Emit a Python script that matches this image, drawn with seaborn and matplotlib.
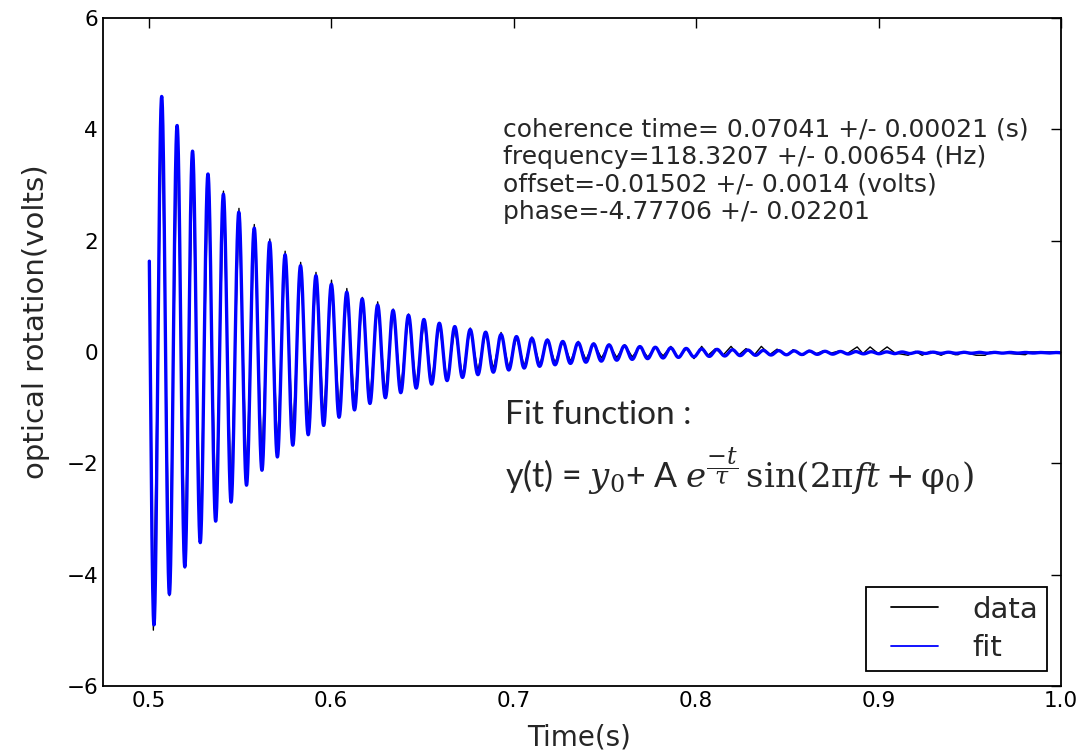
import numpy as np
import matplotlib
matplotlib.use("Agg")
import matplotlib.pyplot as plt
import seaborn as sns

# fit results printed on the chart
tau = 0.07041       # coherence time (s)
freq = 118.3207     # Hz
offset = -0.01502   # volts
phase = -4.77706
amp = 5.1           # envelope at t = 0.5 s
t_ref = 0.5

fit_text = [
    "coherence time= 0.07041 +/- 0.00021 (s)",
    "frequency=118.3207 +/- 0.00654 (Hz)",
    "offset=-0.01502 +/- 0.0014 (volts)",
    "phase=-4.77706 +/- 0.02201",
]

data_t = [0.5004,
          0.5026, 0.5072, 0.5114, 0.5157, 0.5199, 0.5241, 0.5283, 0.5326,
          0.5368, 0.5410, 0.5452, 0.5495, 0.5537, 0.5579, 0.5621, 0.5664,
          0.5706, 0.5748, 0.5790, 0.5833, 0.5875, 0.5917, 0.5959, 0.6002,
          0.6044, 0.6086, 0.6128, 0.6171, 0.6213, 0.6255, 0.6297, 0.6340,
          0.6382, 0.6424, 0.6466, 0.6509, 0.6551, 0.6593, 0.6635, 0.6678,
          0.6720, 0.6762, 0.6804, 0.6847, 0.6889, 0.6931, 0.6973, 0.7016,
          0.7058, 0.7100, 0.7143, 0.7185, 0.7227, 0.7270, 0.7312, 0.7354,
          0.7396, 0.7439, 0.7481, 0.7523, 0.7565, 0.7608, 0.7650, 0.7692,
          0.7734, 0.7777, 0.7819, 0.7861, 0.7903, 0.7946, 0.7988, 0.8030,
          0.8065, 0.8106, 0.8147, 0.8191, 0.8232, 0.8273, 0.8317, 0.8357,
          0.8402, 0.8443, 0.8498, 0.8531, 0.8586, 0.8618, 0.8659, 0.8697,
          0.8741, 0.8785, 0.8827, 0.8882, 0.8914, 0.8953, 0.8997, 0.9046,
          0.9090, 0.9161, 0.9200, 0.9238, 0.9282, 0.9342, 0.9380, 0.9419,
          0.9435, 0.9457, 0.9534, 0.9556, 0.9583, 0.9611, 0.9803, 0.9830,
          1.0]
data_v = [1.63,
          -5.00, 4.45, -4.38, 4.04, -3.88, 3.59, -3.40, 3.20,
          -3.00, 2.89, -2.62, 2.58, -2.30, 2.29, -2.03, 2.03,
          -1.80, 1.81, -1.57, 1.61, -1.35, 1.43, -1.24, 1.29,
          -1.10, 1.14, -0.99, 0.98, -0.88, 0.90, -0.78, 0.77,
          -0.68, 0.68, -0.62, 0.57, -0.54, 0.51, -0.52, 0.43,
          -0.45, 0.43, -0.35, 0.36, -0.31, 0.35, -0.29, 0.27,
          -0.26, 0.27, -0.23, 0.23, -0.20, 0.20, -0.17, 0.19,
          -0.14, 0.16, -0.11, 0.14, -0.10, 0.13, -0.09, 0.10,
          -0.09, 0.08, -0.07, 0.10, -0.11, 0.06, -0.12, 0.10,
          -0.06, 0.06, -0.06, 0.10, -0.06, 0.06, -0.06, 0.10,
          -0.05, 0.05, -0.06, 0.04, -0.06, 0.03, -0.03, 0.02,
          -0.02, 0.02, -0.03, 0.09, -0.03, 0.09, -0.03, 0.09,
          -0.02, -0.06, 0.01, -0.06, 0.01, -0.06, 0.00, -0.05,
          -0.05, 0.00, -0.06, -0.06, -0.06, 0.00, -0.05, 0.00,
          0.00]

sns.set_style("white")
plt.rcParams.update({
    "font.family": ["DejaVu Sans"],
    "mathtext.fontset": "dejavuserif",
    "xtick.direction": "in",
    "ytick.direction": "in",
    "xtick.top": True,
    "ytick.right": True,
    "xtick.major.size": 7,
    "ytick.major.size": 7,
    "xtick.color": "black",
    "ytick.color": "black",
    "axes.edgecolor": "black",
    "axes.linewidth": 1.3,
})

# fit curve from the fit function and parameters shown on the chart
t_fit = np.linspace(data_t[0], data_t[-1], 6000)
y_fit = offset + amp * np.exp(-(t_fit - t_ref) / tau) * np.sin(2 * np.pi * freq * t_fit + phase)

fig, ax = plt.subplots(figsize=(10.84, 7.52), dpi=100)
fig.subplots_adjust(left=0.095, right=0.979, top=0.976, bottom=0.088)

sns.lineplot(x=data_t, y=data_v, color="black", lw=1.0, label="data",
             estimator=None, sort=False, ax=ax)
sns.lineplot(x=t_fit, y=y_fit, color="blue", lw=2.4, label="fit",
             estimator=None, sort=False, ax=ax)

ax.set_xlim(0.475, 1.0)
ax.set_ylim(-6, 6)
ax.set_xticks([0.5, 0.6, 0.7, 0.8, 0.9, 1.0])
ax.set_yticks([-6, -4, -2, 0, 2, 4, 6])
ax.tick_params(labelsize=15.5, width=1)

ax.set_xlabel("Time(s)", fontsize=20)
ax.set_ylabel("optical rotation(volts)", fontsize=21)
ax.xaxis.set_label_coords(0.497, -0.056)
ax.yaxis.set_label_coords(-0.055, 0.546)

ax.text(0.694, 4.21, "\n".join(fit_text), fontsize=18, va="top", ha="left",
        linespacing=1.19)

ax.text(0.6955, -1.13, "Fit function :", fontsize=24,
        family=["Lato", "DejaVu Sans"], va="center", ha="left")
ax.text(0.6955, -2.15,
        r"y(t) = $y_0$+ A $e^{\dfrac{-t}{\tau}}\,\mathrm{sin}(2\mathrm{\pi} f t + \mathrm{\varphi}_0)$",
        fontsize=24.5, family=["Lato", "DejaVu Sans"], va="center", ha="left")

leg = ax.legend(loc="lower right", fontsize=21, frameon=True, fancybox=False,
                framealpha=1, edgecolor="black", handlelength=2.63,
                handletextpad=0.7, borderaxespad=0.5, borderpad=0.3,
                labelspacing=0.37)
leg.get_frame().set_linewidth(1.3)
for line in leg.get_lines():
    line.set_linewidth(1.3)
    xd = np.asarray(line.get_xdata(), dtype=float)
    x0, x1 = xd.min(), xd.max()
    w = x1 - x0
    line.set_xdata(np.linspace(x0 + 0.21 * w, x1 - 0.18 * w, len(xd)))

fig.savefig("out.png", dpi=100)
